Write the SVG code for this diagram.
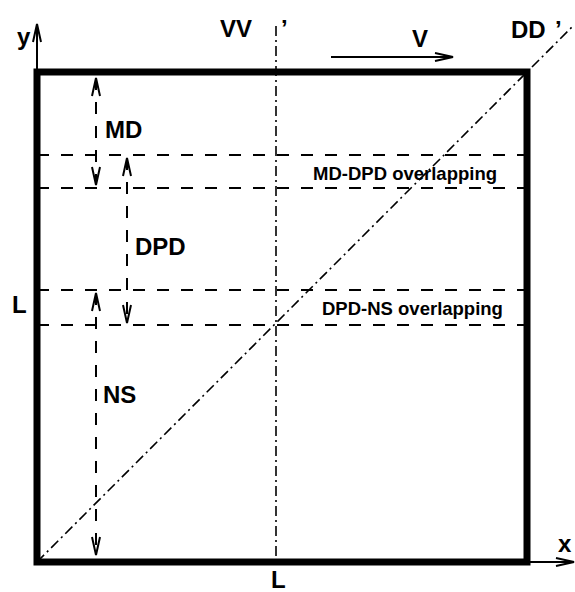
<svg xmlns="http://www.w3.org/2000/svg" width="575" height="592" viewBox="0 0 575 592">
  <style>
    .lbl { font-family: "Liberation Sans", Arial, sans-serif; font-weight: bold; font-size: 24px; fill: #000; }
    .small { font-size: 18.5px; }
    .dash { stroke: #000; stroke-width: 2; stroke-dasharray: 12 12; fill: none; }
    .dashdot { stroke: #000; stroke-width: 1.6; stroke-dasharray: 10 4 2 4; fill: none; }
    .solid { stroke: #000; stroke-width: 2; fill: none; }
  </style>
  <defs>
    <marker id="arr" markerUnits="userSpaceOnUse" viewBox="-20 -6 22 12" refX="0" refY="0" markerWidth="22" markerHeight="12" orient="auto-start-reverse" overflow="visible">
      <path d="M-18,-4 L0,0 L-18,4" fill="none" stroke="#000" stroke-width="2" stroke-dasharray="none"/>
    </marker>
  </defs>
  <rect width="575" height="592" fill="#fff"/>

  <g id="reference-lines">
    <line class="dashdot" x1="276" y1="26" x2="276" y2="562"/>
    <line class="dashdot" x1="37" y1="562" x2="573" y2="26"/>
  </g>

  <g id="boundaries">
    <line class="dash" x1="37" y1="155" x2="527" y2="155"/>
    <line class="dash" x1="37" y1="188" x2="527" y2="188"/>
    <line class="dash" x1="37" y1="290" x2="527" y2="290"/>
    <line class="dash" x1="37" y1="325" x2="527" y2="325"/>
  </g>

  <g id="connectors">
    <line class="dash" x1="96" y1="78" x2="96" y2="185" marker-start="url(#arr)" marker-end="url(#arr)"/>
    <line class="dash" x1="127" y1="158" x2="127" y2="323" marker-start="url(#arr)" marker-end="url(#arr)"/>
    <line class="dash" x1="96" y1="293" x2="96" y2="555" marker-start="url(#arr)" marker-end="url(#arr)"/>
    <line class="solid" x1="331" y1="57" x2="453" y2="57" marker-end="url(#arr)"/>
  </g>

  <g id="axes">
    <line class="solid" x1="37" y1="72" x2="37" y2="24" marker-end="url(#arr)"/>
    <line class="solid" x1="527" y1="562" x2="574" y2="562" marker-end="url(#arr)"/>
  </g>

  <g id="box">
    <rect x="37" y="72" width="490" height="490" fill="none" stroke="#000" stroke-width="7"/>
  </g>

  <g id="labels">
    <text class="lbl" x="17" y="45">y</text>
    <text class="lbl" x="558" y="552">x</text>
    <text class="lbl" x="220" y="37">VV</text>
    <text class="lbl" x="281" y="37">’</text>
    <text class="lbl" x="511" y="38">DD</text>
    <text class="lbl" x="555" y="38">’</text>
    <text class="lbl" x="412" y="47">V</text>
    <text class="lbl" x="105" y="138">MD</text>
    <text class="lbl" x="135" y="255">DPD</text>
    <text class="lbl" x="103" y="403">NS</text>
    <text class="lbl" x="12" y="313">L</text>
    <text class="lbl" x="271" y="588">L</text>
    <text class="lbl small" x="313" y="180">MD-DPD overlapping</text>
    <text class="lbl small" x="322" y="315">DPD-NS overlapping</text>
  </g>
</svg>
